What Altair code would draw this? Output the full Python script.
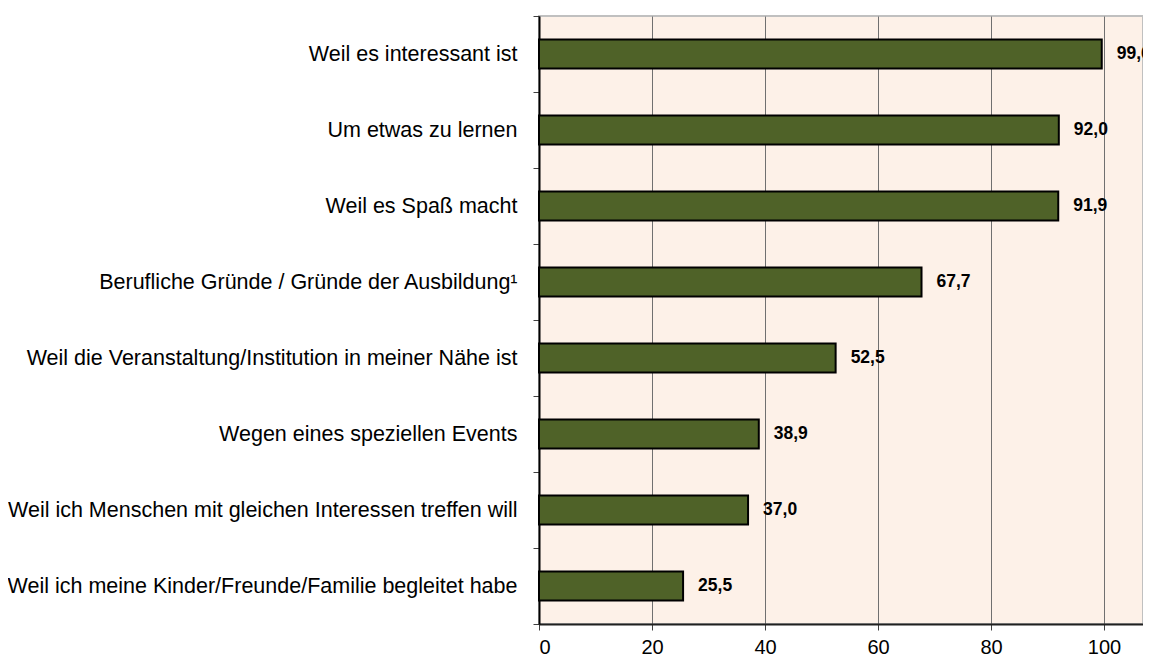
import altair as alt
import pandas as pd

categories = [
    "Weil es interessant ist",
    "Um etwas zu lernen",
    "Weil es Spaß macht",
    "Berufliche Gründe / Gründe der Ausbildung¹",
    "Weil die Veranstaltung/Institution in meiner Nähe ist",
    "Wegen eines speziellen Events",
    "Weil ich Menschen mit gleichen Interessen treffen will",
    "Weil ich meine Kinder/Freunde/Familie begleitet habe",
]
values = [99.6, 92.0, 91.9, 67.7, 52.5, 38.9, 37.0, 25.5]
x_ticks = [0, 20, 40, 60, 80, 100]

df = pd.DataFrame({"cat": categories, "val": values})
df["label"] = [f"{v:.1f}".replace(".", ",") for v in values]

FONT = "Liberation Sans"

y_enc = alt.Y(
    "cat:N",
    sort=None,
    scale=alt.Scale(paddingInner=0, paddingOuter=0),
    axis=alt.Axis(
        title=None,
        tickBand="extent",
        labelFontSize=21.5,
        labelFont=FONT,
        labelColor="black",
        labelLimit=700,
        labelPadding=16,
        tickSize=6,
        tickColor="#404040",
        domainColor="black",
        domainWidth=2,
        grid=False,
    ),
)
x_enc = alt.X(
    "val:Q",
    scale=alt.Scale(domain=[0, 106.9], nice=False, zero=True),
    axis=alt.Axis(
        title=None,
        values=x_ticks,
        grid=True,
        gridColor="#707070",
        gridWidth=1,
        labelFontSize=20,
        labelFont=FONT,
        labelColor="black",
        labelPadding=7,
        tickSize=6,
        tickColor="#404040",
        domainColor="#202020",
        domainWidth=2,
    ),
)

bars = alt.Chart(df).mark_bar(
    fill="#4F6228", stroke="black", strokeWidth=2, size=29
).encode(x=x_enc, y=y_enc)
text = alt.Chart(df).mark_text(
    align="left", baseline="middle", dx=15, fontSize=17.5, fontWeight="bold", font=FONT, color="black"
).encode(x=alt.X("val:Q"), y=alt.Y("cat:N", sort=None), text="label:N")

chart = (
    alt.layer(bars, text)
    .properties(
        width=604,
        height=608,
        padding={"left": 531, "top": 8, "right": 0, "bottom": 36},
        autosize=alt.AutoSizeParams(type="none"),
        background="white",
    )
    .configure_view(fill="#FDF1E8", stroke="#C0C0C0", strokeWidth=2)
)

chart.save("out.html", embed_options={"renderer": "svg", "actions": False})
